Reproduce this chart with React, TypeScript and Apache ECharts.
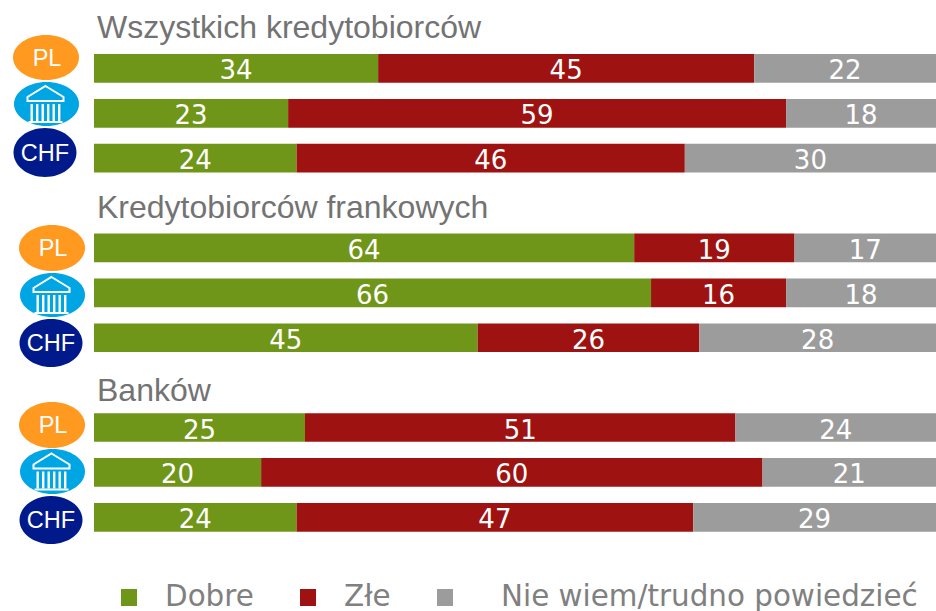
import React, { useEffect, useRef } from "react";
import * as echarts from "echarts";

const categories = ["a1", "a2", "a3", "gap1", "b1", "b2", "b3", "gap2", "c1", "c2", "c3"];
const dobre = [34, 23, 24, null, 64, 66, 45, null, 25, 20, 24];
const zle = [45, 59, 46, null, 19, 16, 26, null, 51, 60, 47];
const nieWiem = [22, 18, 30, null, 17, 18, 28, null, 24, 21, 29];
const seriesNames = ["Dobre", "Złe", "Nie wiem/trudno powiedzieć"];
const colors = ["#6F9618", "#9E1311", "#9C9C9C"];
const groupTitles = ["Wszystkich kredytobiorców", "Kredytobiorców frankowych", "Banków"];
const titleY = [27, 207, 390];
const legendSquareX = [121, 300, 437];
const legendTextX = [165, 344, 501];

const totals = categories.map((_, i) => (dobre[i] ?? 0) + (zle[i] ?? 0) + (nieWiem[i] ?? 0));
const share = (arr: (number | null)[]) =>
  arr.map((v, i) => (v === null ? null : { value: (v / totals[i]) * 100, raw: v }));

function badge(kind: string, cx: number, cy: number, rx: number, ry: number): any[] {
  const fill = kind === "PL" ? "#FF991F" : kind === "bank" ? "#00A5E3" : "#001A8C";
  const shape: any = { type: "ellipse", shape: { cx, cy, rx, ry }, style: { fill } };
  if (kind === "bank") {
    return [
      shape,
      { type: "polygon", shape: { points: [[cx - 1, cy - 18], [cx + 17, cy - 7], [cx + 17, cy - 3], [cx - 19, cy - 3], [cx - 19, cy - 7]] }, style: { fill: "none", stroke: "#fff", lineWidth: 2 } },
      ...[-16, -10.5, -5, 0.5, 6, 11.5].map((d) => ({ type: "rect", shape: { x: cx + d, y: cy, width: 2.4, height: 17 }, style: { fill: "#fff" } })),
      { type: "rect", shape: { x: cx - 18, y: cy + 17, width: 34, height: 2 }, style: { fill: "#fff" } },
    ];
  }
  return [
    shape,
    {
      type: "text",
      x: cx + (kind === "PL" ? 1 : 0),
      y: cy,
      style: { text: kind, fill: "#fff", font: "23.5px 'Liberation Sans'", align: "center", verticalAlign: "middle" },
    },
  ];
}

export default function App() {
  const ref = useRef<HTMLDivElement>(null);
  useEffect(() => {
    const chart = echarts.init(ref.current!, null, { renderer: "svg" });
    const labelFont = { show: true, position: "inside" as const, offset: [0, 2], color: "#fff", fontFamily: "DejaVu Sans", fontSize: 26, formatter: (p: any) => String(p.data.raw) };
    const series = [dobre, zle, nieWiem].map((arr, i) => ({
      name: seriesNames[i],
      type: "bar" as const,
      stack: "t",
      barWidth: 28.7,
      itemStyle: { color: colors[i] },
      label: labelFont,
      data: share(arr),
    }));
    const graphicEls: any[] = [
      ...groupTitles.map((t, i) => ({
        type: "text",
        x: 97,
        y: titleY[i],
        style: { text: t, fill: "#737373", font: "32px 'Liberation Sans'", verticalAlign: "middle" },
      })),
      ...seriesNames.map((n, i) => ({
        type: "text",
        x: legendTextX[i],
        y: 595.5,
        style: { text: n, fill: "#808080", font: "29.4px 'DejaVu Sans'", verticalAlign: "middle" },
      })),
      ...badge("PL", 46, 57.5, 33, 22.5),
      ...badge("bank", 46.5, 104, 32.5, 22),
      ...badge("CHF", 45, 152.5, 31.5, 24.5),
      ...badge("PL", 52, 248, 33, 23),
      ...badge("bank", 52.5, 295, 32.5, 22),
      ...badge("CHF", 51, 343, 31.5, 24),
      ...badge("PL", 52, 425, 33, 23),
      ...badge("bank", 52.5, 471.5, 32.5, 22.5),
      ...badge("CHF", 51, 520, 31.5, 24),
    ];
    chart.setOption({
      animation: false,
      backgroundColor: "#fff",
      grid: { left: 94, right: 0, top: 45.95, height: 493.8, containLabel: false },
      xAxis: { type: "value", min: 0, max: 99.76, show: false },
      yAxis: { type: "category", inverse: true, data: categories, show: false },
      legend: seriesNames.map((n, i) => ({
        data: [n],
        left: legendSquareX[i],
        top: 589,
        padding: 0,
        itemWidth: 16,
        itemHeight: 17,
        icon: "rect",
        selectedMode: false,
        formatter: () => "",
        textStyle: { fontSize: 10 },
      })),
      series,
      graphic: { elements: graphicEls },
    });
    return () => chart.dispose();
  }, []);
  return <div ref={ref} style={{ position: "fixed", left: 0, top: 0, width: 936, height: 611 }} />;
}
